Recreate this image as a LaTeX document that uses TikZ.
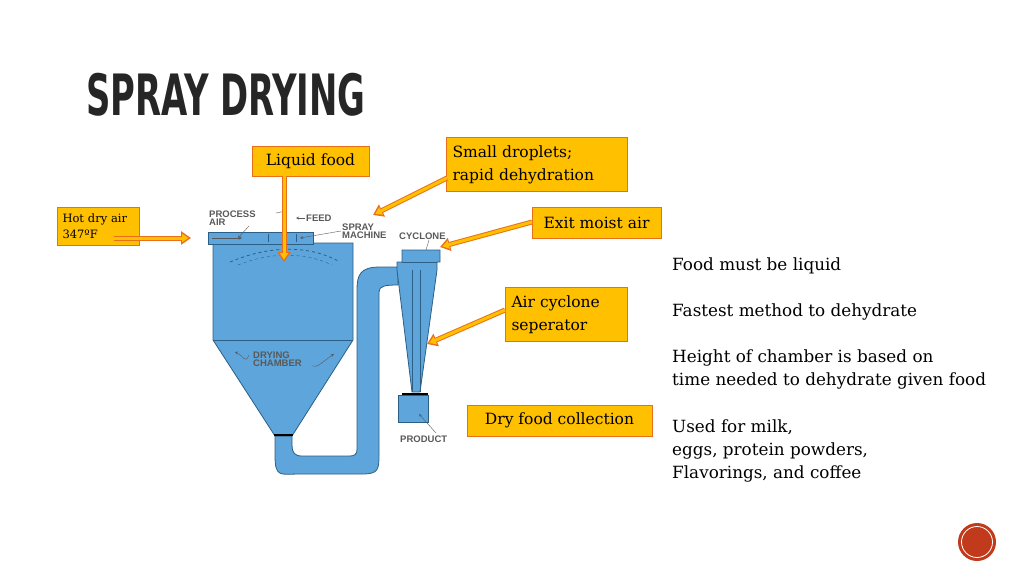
\documentclass[tikz,border=0pt]{standalone}
\usepackage{fontspec}
\setmainfont{DejaVu Serif}
\newfontfamily\titlefont{DejaVu Sans Condensed}[FakeStretch=0.66]
\newfontfamily\lblfont{Liberation Sans}
\usetikzlibrary{arrows.meta}
\definecolor{ob}{HTML}{FFC000}
\definecolor{obd}{HTML}{E8701A}
\definecolor{bl}{HTML}{5DA5DA}
\definecolor{bld}{HTML}{2C5F86}
\definecolor{rd}{HTML}{C23A1C}
\tikzset{
 obox/.style={draw=obd,fill=ob,line width=1pt,align=left,inner sep=6pt,font=\fontsize{15.5}{23}\selectfont},
 part/.style={fill=bl,draw=bld,line width=0.8pt},
 lbl/.style={font=\lblfont\fontsize{9.5}{8}\selectfont\bfseries,text=black!65,align=left,inner sep=0pt,anchor=west},
 rtext/.style={font=\fontsize{16.8}{23}\selectfont,align=left,anchor=west,inner sep=0pt},
 oarrow/.style={draw=obd,line width=5pt,-{Triangle[length=10pt,width=13pt]}},
 iarrow/.style={draw=ob,line width=3pt,shorten >=2.5pt,-{Triangle[length=6.5pt,width=8pt]}},
}
\begin{document}
\begin{tikzpicture}[x=1pt,y=-1pt]
\useasboundingbox (0,0) rectangle (1024,576);
\node[anchor=west,inner sep=0pt,font=\titlefont\bfseries\fontsize{57}{57}\selectfont,text=black!85] (title) at (86,95) {SPRAY DRYING};
% pipe
\path[part] (275,436) -- (275,455) .. controls (275,478) and (280,474) .. (300,474) -- (362,474) .. controls (378,474) and (379,470) .. (379,455)
 -- (379,292) .. controls (379,286) and (385,285) .. (398,285) -- (398,267) -- (380,267) .. controls (360,267) and (357,275) .. (357,290)
 -- (357,448) .. controls (357,455) and (355,456) .. (348,456) -- (302,456) .. controls (294,456) and (292,452) .. (292,445) -- (292,436) -- cycle;
% chamber
\path[part] (213,243) -- (353,243) -- (353,340) -- (292,436) -- (275,436) -- (213,340) -- cycle;
\draw[bld,line width=0.8pt] (213,340) -- (353,340);
\draw[black,line width=2pt] (274,435) -- (293,435);
% header
\path[part] (208,232) -- (313,232) -- (313,244) -- (208,244) -- cycle;
\draw[bld] (268,234) -- (268,242) (296,234) -- (296,242);
\draw[bld,dashed,thick] (230,262) .. controls (270,245) and (310,245) .. (340,262);
\draw[bld,dashed] (238,265) .. controls (270,252) and (305,252) .. (332,265);
% cyclone
\path[part] (402,250) -- (440,250) -- (440,262) -- (437,262) -- (437,270) -- (420,392) -- (412,392) -- (397,270) -- (397,262) -- (402,262) -- cycle;
\draw[bld] (402,262) -- (437,262);
\draw[bld] (412,392) -- (412,270) (420,392) -- (420,270);
\draw[black,line width=1.2pt] (402,394) -- (428,394);
\path[part] (398,395) rectangle (428,422);
% small labels
\node[lbl] (pa) at (209,218) {PROCESS\\AIR};
\node[lbl] (fd) at (306,218) {FEED};
\node[lbl] (sm) at (342,231) {SPRAY\\MACHINE};
\node[lbl] (cy) at (399,236) {CYCLONE};
\node[lbl] (dc) at (253,359) {DRYING\\CHAMBER};
\node[lbl] (pr) at (400,439) {PRODUCT};
\draw[black!65,->,>=stealth] (249,226) -- (238,238);
\draw[black!65] (276,213) -- (286,211);
\draw[black!65,->,>=stealth] (305,218) -- (296,218);
\draw[black!65,->,>=stealth] (341,231) -- (300,238);
\draw[black!65,->,>=stealth] (212,238) -- (242,238);
\draw[black!65] (429,240) -- (426,250);
\draw[black!65,->,>=stealth] (249,355) .. controls (245,365) and (243,355) .. (235,352);
\draw[black!65,->,>=stealth] (312,366) .. controls (318,368) and (322,362) .. (334,354);
\draw[black!65,->,>=stealth] (436,433) -- (419,414);
% orange boxes
\node[obox,minimum width=117pt,minimum height=30pt,align=center] (lf) at (310.5,161) {Liquid food};
\node[obox,text width=169pt,minimum height=54pt,anchor=north west] (sd) at (446,137) {Small droplets;\\rapid dehydration};
\node[obox,font=\fontsize{11.5}{16}\selectfont,text width=72pt,minimum height=38pt,anchor=north west,inner sep=5pt] (hd) at (57,207) {Hot dry air\\347ºF};
\node[obox,minimum width=129pt,minimum height=31pt,align=center] (em) at (596.5,222.5) {Exit moist air};
\node[obox,text width=110pt,minimum height=54pt,anchor=north west] (ac) at (505,287) {Air cyclone\\seperator};
\node[obox,minimum width=185pt,minimum height=31pt,align=center] (df) at (559.5,420.5) {Dry food collection};
\coordinate (t1) at (284,262);
\coordinate (t2) at (373,215);
\coordinate (t3) at (191,238);
\coordinate (t4) at (440,247);
\coordinate (t5) at (427,344);
\coordinate (s1) at (284,176);
\coordinate (s2) at (447,178);
\coordinate (s3) at (114,238);
\coordinate (s4) at (532,222);
\coordinate (s5) at (505,310);
\foreach \s/\t in {s1/t1,s2/t2,s3/t3,s4/t4,s5/t5}{
 \draw[oarrow] (\s) -- (\t);
 \draw[iarrow] (\s) -- (\t);
}
% right text
\node[rtext] (r1) at (672,266) {Food must be liquid};
\node[rtext] (r2) at (672,312) {Fastest method to dehydrate};
\node[rtext] (r3) at (672,369.5) {Height of chamber is based on\\time needed to dehydrate given food};
\node[rtext] (r4) at (672,451) {Used for milk,\\eggs, protein powders,\\Flavorings, and coffee};
% page circle
\node[circle,fill=rd,minimum size=38pt,inner sep=0pt] (pc) at (977,542) {};
\draw[white,line width=0.8pt] (pc.center) circle (15.5);
\end{tikzpicture}
\end{document}
